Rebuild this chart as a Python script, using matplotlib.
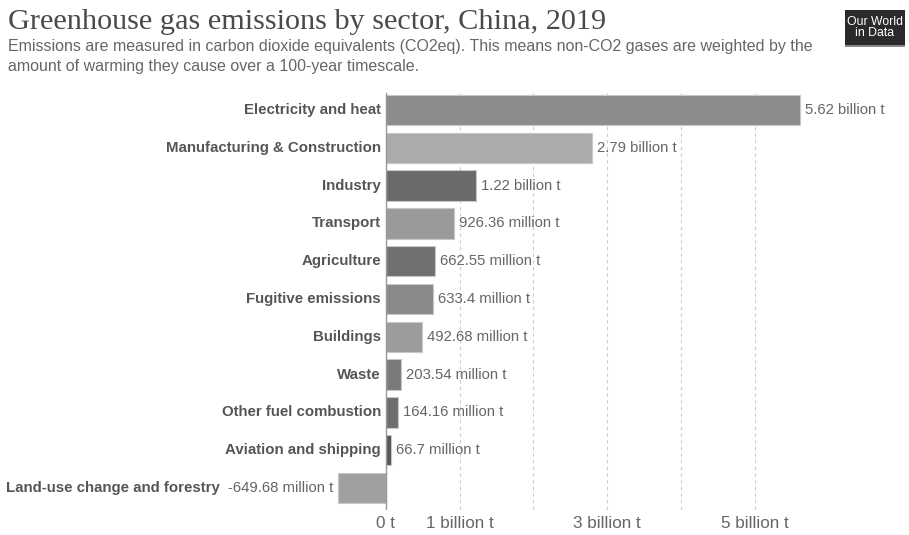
import matplotlib
matplotlib.use("Agg")
import matplotlib.pyplot as plt
from matplotlib.patches import Rectangle
import matplotlib.transforms as mtransforms

sectors = ["Electricity and heat", "Manufacturing & Construction", "Industry", "Transport",
           "Agriculture", "Fugitive emissions", "Buildings", "Waste",
           "Other fuel combustion", "Aviation and shipping", "Land-use change and forestry"]
values_bt = [5.62, 2.79, 1.22, 0.92636, 0.66255, 0.6334, 0.49268, 0.20354, 0.16416, 0.0667, -0.64968]
value_labels = ["5.62 billion t", "2.79 billion t", "1.22 billion t", "926.36 million t",
                "662.55 million t", "633.4 million t", "492.68 million t", "203.54 million t",
                "164.16 million t", "66.7 million t", "-649.68 million t"]
bar_colors = ["#8c8c8c", "#ababab", "#6a6a6a", "#9a9a9a", "#707070", "#8a8a8a",
              "#9c9c9c", "#7a7a7a", "#6e6e6e", "#555555", "#a0a0a0"]
tick_vals = [0, 1, 3, 5]
tick_labels = ["0 t", "1 billion t", "3 billion t", "5 billion t"]
grid_vals = [1, 2, 3, 4, 5]

W, H = 909, 535
fig = plt.figure(figsize=(W / 100, H / 100), dpi=100)

# axes in pixel coords
ax_l, ax_r, ax_t, ax_b = 330, 880, 92, 510
ax = fig.add_axes([ax_l / W, 1 - ax_b / H, (ax_r - ax_l) / W, (ax_b - ax_t) / H])
pxb = 73.7
x0 = 386
ax.set_xlim((ax_l - x0) / pxb, (ax_r - x0) / pxb)
pxr = 37.8
y0 = 110
ax.set_ylim((ax_b - y0) / pxr, (ax_t - y0) / pxr)
ax.axis("off")

for g in grid_vals:
    ax.plot([g, g], [-0.45, 10.6], color="#cccccc", lw=0.8, ls=(0, (3, 3)), zorder=0)

ys = list(range(len(sectors)))
ax.barh(ys, values_bt, height=0.8, color=bar_colors, edgecolor="#c8c8c8", linewidth=0.8, zorder=2)
ax.plot([0, 0], [-0.45, 10.6], color="#999999", lw=1.0, zorder=3)

off = mtransforms.offset_copy
FS_CAT = 10.8
FS_VAL = 10.7
for y, v, lab, name in zip(ys, values_bt, value_labels, sectors):
    if v >= 0:
        ax.text(v, y, lab, transform=off(ax.transData, fig=fig, x=5, y=0, units="dots"),
                ha="left", va="center", fontsize=FS_VAL, color="#666666", family="Liberation Sans")
        ax.text(0, y, name, transform=off(ax.transData, fig=fig, x=-5, y=0, units="dots"),
                ha="right", va="center", fontsize=FS_CAT, color="#555555", fontweight="bold",
                family="Liberation Sans")
    else:
        ax.text(v, y, lab, transform=off(ax.transData, fig=fig, x=-5, y=0, units="dots"),
                ha="right", va="center", fontsize=FS_VAL, color="#666666", family="Liberation Sans")
        ax.text(v, y, name, transform=off(ax.transData, fig=fig, x=-118, y=0, units="dots"),
                ha="right", va="center", fontsize=FS_CAT, color="#555555", fontweight="bold",
                family="Liberation Sans")

for tv, tl in zip(tick_vals, tick_labels):
    ax.text(tv, 10.95, tl, ha="center", va="center", fontsize=12.3, color="#666666",
            family="Liberation Sans", clip_on=False)

fig.text(8 / W, 1 - 22 / H, "Greenhouse gas emissions by sector, China, 2019",
         fontsize=21.8, color="#4a4a4a", family="Liberation Serif", va="center", ha="left")
fig.text(8 / W, 1 - 47 / H,
         "Emissions are measured in carbon dioxide equivalents (CO2eq). This means non-CO2 gases are weighted by the",
         fontsize=11.5, color="#666666", family="Liberation Sans", va="center", ha="left")
fig.text(8 / W, 1 - 66 / H, "amount of warming they cause over a 100-year timescale.",
         fontsize=11.5, color="#666666", family="Liberation Sans", va="center", ha="left")

# logo
logo = Rectangle((845 / W, 1 - 45 / H), 60 / W, 35 / H, transform=fig.transFigure,
                 facecolor="#2a2a2a", edgecolor="none")
fig.patches.append(logo)
fig.patches.append(Rectangle((845 / W, 1 - 47 / H), 60 / W, 2 / H, transform=fig.transFigure,
                             facecolor="#888888", edgecolor="none"))
fig.text(875 / W, 1 - 27.5 / H, "Our World\nin Data", fontsize=8.8, color="white",
         family="Liberation Sans", ha="center", va="center", linespacing=0.95)

fig.savefig("out.png", dpi=100, facecolor="white")
